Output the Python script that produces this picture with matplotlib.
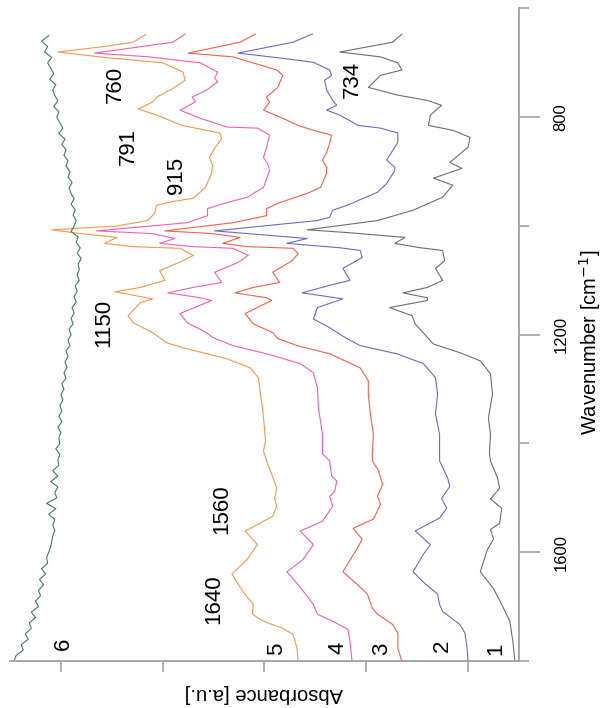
import matplotlib
matplotlib.use("Agg")
import matplotlib.pyplot as plt

plt.rcParams['font.family'] = ['Liberation Sans', 'DejaVu Sans']

# spectra, wavenumber [cm-1] and absorbance [a.u.]
wn_1 = [647, 662, 680, 689, 700, 713, 723, 745, 759, 769, 778, 796, 815, 824, 837, 855, 883, 894,
        912, 925, 947, 971, 990, 1007, 1012, 1021, 1032, 1040, 1045, 1064, 1078, 1100, 1113, 1123,
        1132, 1137, 1150, 1165, 1180, 1217, 1233, 1248, 1272, 1309, 1353, 1383, 1419, 1432, 1464,
        1482, 1502, 1519, 1547, 1558, 1576, 1595, 1636, 1667, 1696, 1727, 1764, 1801]
ab_1 = [0.65, 0.74, 1.26, 0.86, 0.69, 0.65, 0.86, 0.98, 0.70, 0.40, 0.26, 0.37, 0.39, 0.15, -0.02,
        0.00, 0.18, 0.06, 0.34, 0.15, 0.25, 0.54, 0.89, 1.58, 1.19, 0.62, 0.72, 0.47, 0.25, 0.23,
        0.32, 0.25, 0.40, 0.64, 0.40, 0.40, 0.77, 0.55, 0.52, 0.34, 0.08, -0.12, -0.22, -0.24, -0.20,
        -0.22, -0.21, -0.22, -0.29, -0.31, -0.22, -0.33, -0.31, -0.22, -0.25, -0.19, -0.12, -0.25,
        -0.33, -0.41, -0.44, -0.46]

wn_2 = [647, 662, 682, 691, 699, 713, 723, 732, 750, 769, 778, 787, 796, 815, 820, 829, 846, 861,
        879, 892, 898, 922, 938, 962, 971, 984, 990, 1009, 1023, 1032, 1040, 1045, 1058, 1078, 1100,
        1109, 1123, 1134, 1150, 1171, 1187, 1205, 1220, 1235, 1253, 1279, 1309, 1346, 1383, 1419,
        1432, 1464, 1479, 1501, 1519, 1537, 1561, 1586, 1604, 1636, 1655, 1677, 1696, 1709, 1733,
        1749, 1777, 1801]
ab_2 = [1.53, 1.72, 2.26, 1.85, 1.52, 1.36, 1.34, 1.41, 1.39, 1.33, 1.29, 1.39, 1.26, 1.08, 0.86,
        0.69, 0.69, 0.74, 0.80, 0.72, 0.72, 0.80, 0.89, 1.19, 1.33, 1.36, 1.48, 2.49, 1.58, 1.78,
        1.26, 1.06, 1.04, 1.23, 1.16, 1.36, 1.63, 1.23, 1.48, 1.52, 1.36, 1.21, 1.06, 0.70, 0.44,
        0.32, 0.30, 0.32, 0.28, 0.28, 0.28, 0.20, 0.18, 0.26, 0.21, 0.28, 0.52, 0.37, 0.44, 0.54,
        0.44, 0.30, 0.28, 0.25, 0.08, 0.03, 0.01, 0.00]

wn_3 = [647, 662, 682, 689, 713, 723, 745, 763, 772, 787, 802, 815, 824, 833, 848, 865, 879, 892,
        903, 929, 940, 957, 968, 981, 994, 1009, 1014, 1021, 1032, 1038, 1041, 1051, 1064, 1085,
        1104, 1113, 1123, 1132, 1137, 1161, 1180, 1196, 1207, 1220, 1235, 1261, 1285, 1309, 1346,
        1383, 1419, 1432, 1450, 1475, 1497, 1512, 1539, 1556, 1576, 1593, 1636, 1659, 1677, 1703,
        1714, 1733, 1749, 1777, 1801]
ab_3 = [2.09, 2.24, 2.75, 2.31, 1.88, 1.82, 1.87, 1.98, 1.95, 2.01, 1.82, 1.67, 1.52, 1.34, 1.36,
        1.39, 1.43, 1.39, 1.39, 1.45, 1.58, 1.85, 1.98, 1.98, 2.31, 2.98, 2.51, 2.24, 2.41, 2.17,
        1.72, 1.67, 1.73, 1.92, 1.85, 2.11, 2.29, 1.98, 1.93, 2.19, 2.11, 1.92, 1.87, 1.68, 1.36,
        1.06, 0.98, 0.98, 0.96, 0.93, 0.94, 0.94, 0.88, 0.84, 0.89, 0.86, 0.93, 1.13, 1.04, 1.09,
        1.23, 1.09, 0.99, 0.94, 0.89, 0.74, 0.69, 0.69, 0.65]

wn_4 = [647, 662, 682, 689, 700, 717, 728, 735, 750, 763, 772, 787, 802, 818, 820, 833, 855, 874,
        885, 898, 929, 947, 957, 968, 981, 994, 1009, 1014, 1023, 1032, 1038, 1041, 1054, 1067,
        1085, 1104, 1113, 1123, 1132, 1137, 1161, 1178, 1196, 1205, 1220, 1235, 1253, 1270, 1298,
        1335, 1383, 1419, 1432, 1460, 1469, 1488, 1497, 1515, 1543, 1561, 1586, 1613, 1636, 1664,
        1696, 1714, 1727, 1742, 1764, 1801]
ab_4 = [2.78, 2.90, 3.67, 3.13, 2.63, 2.46, 2.49, 2.46, 2.57, 2.71, 2.68, 2.83, 2.63, 2.37, 2.07,
        1.95, 1.98, 2.01, 1.97, 1.95, 2.01, 2.17, 2.37, 2.56, 2.56, 2.76, 3.65, 3.10, 2.88, 3.03,
        2.70, 2.31, 2.16, 2.26, 2.49, 2.42, 2.70, 2.95, 2.63, 2.52, 2.83, 2.76, 2.57, 2.51, 2.31,
        1.98, 1.65, 1.52, 1.48, 1.47, 1.43, 1.43, 1.36, 1.34, 1.29, 1.31, 1.36, 1.33, 1.43, 1.65,
        1.52, 1.62, 1.78, 1.65, 1.52, 1.48, 1.33, 1.18, 1.16, 1.14]

wn_5 = [648, 662, 671, 680, 689, 700, 717, 732, 747, 763, 772, 785, 796, 815, 824, 829, 839, 857,
        874, 888, 903, 929, 949, 955, 962, 977, 990, 1000, 1007, 1014, 1021, 1032, 1038, 1041, 1054,
        1064, 1082, 1100, 1113, 1121, 1134, 1141, 1165, 1178, 1196, 1215, 1226, 1244, 1261, 1279,
        1309, 1335, 1372, 1395, 1414, 1432, 1456, 1482, 1501, 1515, 1534, 1543, 1561, 1586, 1613,
        1640, 1673, 1696, 1714, 1727, 1740, 1751, 1777, 1801]
ab_5 = [3.17, 3.29, 3.62, 4.03, 3.62, 3.00, 2.80, 2.78, 2.90, 3.06, 3.10, 3.24, 3.06, 2.81, 2.57,
        2.44, 2.42, 2.49, 2.54, 2.51, 2.52, 2.58, 2.70, 2.90, 3.06, 3.08, 3.15, 3.45, 4.09, 3.81,
        3.45, 3.57, 3.29, 2.83, 2.70, 2.80, 3.03, 2.98, 3.22, 3.47, 3.10, 3.22, 3.34, 3.29, 3.10,
        2.96, 2.76, 2.37, 2.14, 2.06, 2.04, 2.02, 2.00, 1.99, 2.01, 1.98, 1.93, 1.88, 1.90, 1.88,
        1.92, 2.01, 2.19, 2.07, 2.17, 2.32, 2.21, 2.11, 2.12, 2.01, 1.82, 1.72, 1.68, 1.67]

wn_6 = list(range(650, 1801, 10))
ab_6 = [4.12, 4.19, 4.13, 4.16, 4.09, 4.13, 4.10, 4.07, 4.11, 4.05,
        4.08, 4.06, 4.03, 4.07, 4.02, 4.04, 4.01, 3.98, 4.02, 3.96,
        3.99, 3.95, 3.97, 3.93, 3.95, 3.91, 3.93, 3.89, 3.92, 3.90,
        3.87, 3.90, 3.86, 3.88, 3.85, 3.87, 3.90, 3.83, 3.85, 3.81,
        3.84, 3.80, 3.83, 3.82, 3.84, 3.82, 3.86, 3.84, 3.87, 3.85,
        3.89, 3.87, 3.90, 3.88, 3.92, 3.90, 3.93, 3.91, 3.95, 3.93,
        3.96, 3.94, 3.97, 3.95, 3.99, 3.97, 4.00, 3.98, 4.01, 3.99,
        4.02, 3.99, 4.03, 4.00, 4.02, 4.01, 4.05, 4.01, 4.03, 4.02,
        4.08, 4.03, 4.10, 4.03, 4.06, 4.04, 4.14, 4.05, 4.12, 4.06,
        4.08, 4.06, 4.08, 4.09, 4.10, 4.12, 4.14, 4.13, 4.19, 4.15,
        4.21, 4.17, 4.22, 4.20, 4.25, 4.22, 4.29, 4.25, 4.31, 4.29,
        4.35, 4.32, 4.39, 4.37, 4.44, 4.46]

colors = ["#6e6e6e", "#6b6bc6", "#f4604a", "#f160b2", "#f7964f", "#437c5e"]

# sample numbers next to the curve ends: (absorbance, wavenumber)
num_labels = ["1", "2", "3", "4", "5", "6"]
num_ab = [-0.27, 0.25, 0.85, 1.28, 1.88, 3.98]
num_wn = [1777, 1773, 1777, 1775, 1777, 1768]

# band labels
band_labels = ["760", "791", "915", "734", "1150", "1560", "1640"]
band_ab = [3.46, 3.34, 2.86, 1.14, 3.58, 2.42, 2.50]
band_wn = [739, 853, 907, 730, 1178, 1521, 1687]

fig = plt.figure(figsize=(6.02, 7.08), dpi=100)
ax = fig.add_axes([0.0166, 0.0664, 0.8455, 0.9216])

series = [(wn_1, ab_1), (wn_2, ab_2), (wn_3, ab_3), (wn_4, ab_4), (wn_5, ab_5), (wn_6, ab_6)]
for (wn, ab), c in zip(series, colors):
    ax.plot(ab, wn, color=c, lw=0.8, solid_joinstyle="round")

ax.set_xlim(4.5, -0.5)
ax.set_ylim(1800, 600)

for s in ["left", "top"]:
    ax.spines[s].set_visible(False)
for s in ["right", "bottom"]:
    ax.spines[s].set_color("#a0a0a0")
    ax.spines[s].set_linewidth(1.3)

ax.set_xticks([0, 1, 2, 3, 4])
ax.tick_params(axis="x", direction="out", length=8, width=1.2, color="#a0a0a0", labelbottom=False)

ax.yaxis.tick_right()
ax.set_yticks([800, 1200, 1600])
ax.set_yticks([600, 1000, 1400, 1800], minor=True)
ax.tick_params(axis="y", which="major", direction="out", length=15, width=1.2, color="#a0a0a0",
               pad=10, labelsize=12)
ax.tick_params(axis="y", which="minor", direction="out", length=7.5, width=1.2, color="#a0a0a0")
for lab in ax.get_yticklabels():
    lab.set_rotation(90)
    lab.set_va("center")

for t, a, w in zip(num_labels, num_ab, num_wn):
    ax.text(a, w, t, rotation=90, ha="center", va="center", fontsize=16)
for t, a, w in zip(band_labels, band_ab, band_wn):
    ax.text(a, w, t, rotation=90, ha="center", va="center", fontsize=16)

fig.text(590 / 602, 1 - 342 / 708, "Wavenumber [cm$^{-1}$]", rotation=90, ha="center", va="center",
         fontsize=14.5)
fig.text(264 / 602, 1 - 693 / 708, "Absorbance [a.u.]", rotation=180, ha="center", va="center",
         fontsize=14.5)

fig.savefig("out.png", dpi=100)
